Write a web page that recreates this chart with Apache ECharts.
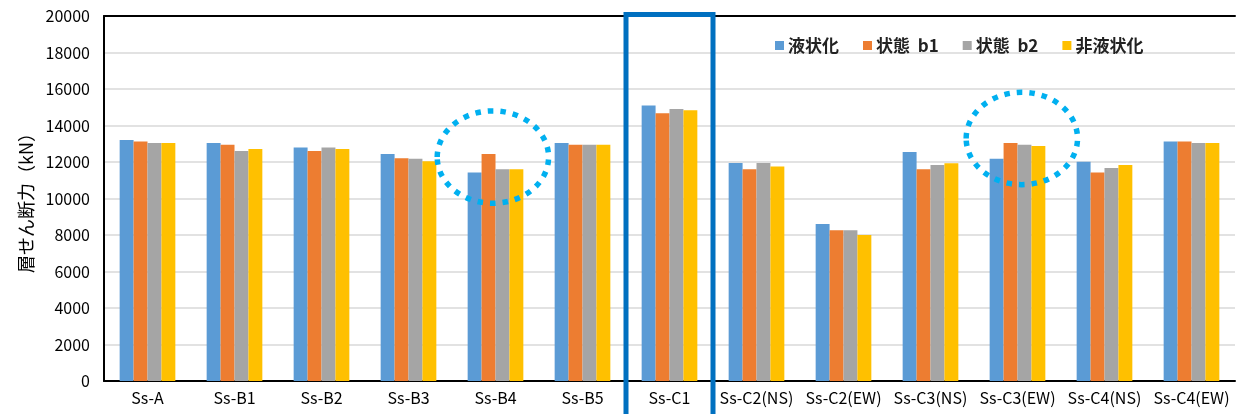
<!DOCTYPE html>
<html>
<head>
<meta charset="utf-8">
<script src="https://cdn.jsdelivr.net/npm/echarts@6/dist/echarts.min.js"></script>
<style>
html,body{margin:0;padding:0;background:#fff;}
#main{width:1239px;height:414px;}
</style>
</head>
<body>
<div id="main"></div>
<script>
const categories = ['Ss-A','Ss-B1','Ss-B2','Ss-B3','Ss-B4','Ss-B5','Ss-C1','Ss-C2(NS)','Ss-C2(EW)','Ss-C3(NS)','Ss-C3(EW)','Ss-C4(NS)','Ss-C4(EW)'];
const seriesNames = ['液状化','状態  b1','状態  b2','非液状化'];
const liquefied    = [13200, 13040, 12800, 12440, 11420, 13040, 15090, 11950, 8600, 12550, 12180, 12020, 13130];
const stateB1      = [13130, 12950, 12600, 12200, 12440, 12950, 14670, 11600, 8260, 11600, 13040, 11420, 13130];
const stateB2      = [13040, 12600, 12790, 12180, 11600, 12950, 14900, 11950, 8260, 11840, 12950, 11670, 13040];
const nonLiquefied = [13040, 12710, 12710, 12040, 11600, 12950, 14830, 11760, 8000, 11930, 12880, 11840, 13040];
const yMin = 0, yMax = 20000, yInterval = 2000;
const yAxisName = '層せん断力（kN）';
// annotations
const boxedCategory = 'Ss-C1';
const circledCategories = ['Ss-B4', 'Ss-C3(EW)'];
const circleCenterValues = [12270, 13290];
const circleOffsets = [-0.03, 0.05];

const colors = ['#5B9BD5','#ED7D31','#A5A5A5','#FFC000'];
const FONT = '"Noto Sans CJK JP", "Noto Sans", sans-serif';
const chart = echarts.init(document.getElementById('main'), null, {renderer:'canvas'});
const dataSets = [liquefied, stateB1, stateB2, nonLiquefied];

chart.setOption({
  animation: false,
  color: colors,
  textStyle: {fontFamily: FONT},
  grid: {left: 104, right: 4, top: 16, bottom: 33, containLabel: false},
  legend: {
    left: 770, top: 32,
    icon: 'rect', itemWidth: 9, itemHeight: 9, itemGap: 24,
    textStyle: {fontFamily: FONT, fontSize: 17, color: '#222', fontWeight: 'bold', padding:[0,0,0,-1]},
    data: seriesNames
  },
  xAxis: [{
    type: 'category', data: categories, position: 'bottom',
    axisLine: {lineStyle: {color: '#000', width: 2}},
    axisTick: {show: false},
    axisLabel: {color: '#000', fontSize: 16, margin: 9, interval: 0, fontFamily: FONT}
  },{
    type: 'category', data: categories, position: 'top',
    axisLine: {lineStyle: {color: '#000', width: 2}},
    axisTick: {show: false}, axisLabel: {show: false}
  }],
  yAxis: {
    type: 'value', min: yMin, max: yMax, interval: yInterval,
    name: yAxisName, nameLocation: 'middle', nameGap: 68, nameRotate: 90,
    nameTextStyle: {fontSize: 18, color: '#000', fontFamily: FONT},
    axisLine: {show: true, lineStyle: {color: '#000', width: 2}},
    axisTick: {show: false},
    axisLabel: {color: '#000', fontSize: 16, margin: 14, fontFamily: FONT, formatter: v => String(v)},
    splitLine: {lineStyle: {color: '#d9d9d9', width: 1.5}}
  },
  series: seriesNames.map((n, i) => ({
    name: n, type: 'bar', data: dataSets[i],
    barGap: '0%', barCategoryGap: '36%',
    itemStyle: {color: colors[i]}
  }))
});

function addAnnotations(){
  const c0 = chart.convertToPixel({xAxisIndex: 0}, categories[0]);
  const c1 = chart.convertToPixel({xAxisIndex: 0}, categories[1]);
  const catW = c1 - c0;
  const yTop = chart.convertToPixel({yAxisIndex: 0}, yMax);
  const bx = chart.convertToPixel({xAxisIndex: 0}, boxedCategory);
  const elements = [{
    type: 'rect', z: 100,
    shape: {x: bx - catW/2, y: yTop - 1.5, width: catW, height: chart.getHeight() + 20},
    style: {fill: 'none', stroke: '#0070C0', lineWidth: 5}
  }];
  circledCategories.forEach((cat, i) => {
    const p = chart.convertToPixel({gridIndex: 0}, [cat, circleCenterValues[i]]);
    const pLow = chart.convertToPixel({yAxisIndex: 0}, circleCenterValues[i] - 2530);
    elements.push({
      type: 'ellipse', z: 100,
      shape: {cx: p[0] + circleOffsets[i]*catW, cy: p[1], rx: catW*0.64, ry: pLow - p[1]},
      style: {fill: 'none', stroke: '#00B0F0', lineWidth: 5.5, lineDash: [5.5, 7], lineCap: 'butt'}
    });
  });
  chart.setOption({graphic: elements});
}
addAnnotations();
</script>
</body>
</html>
